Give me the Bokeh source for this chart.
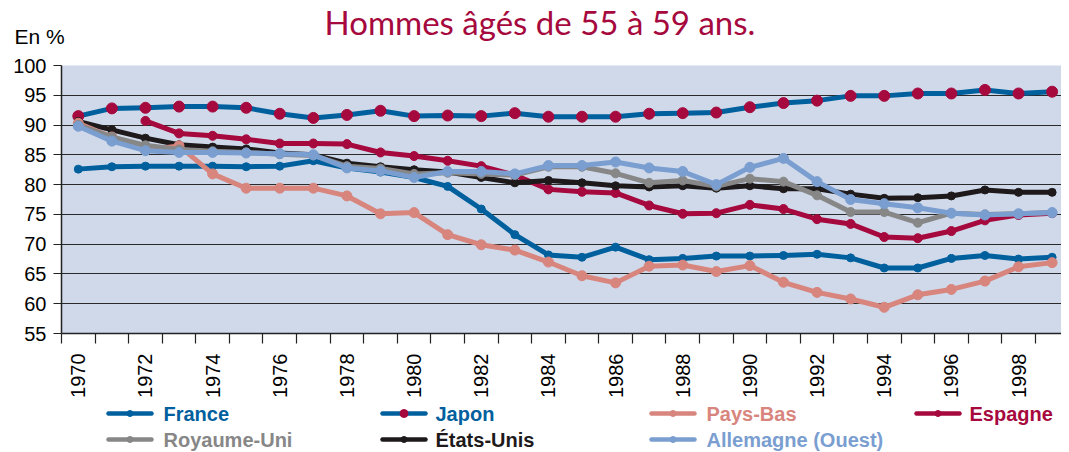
import math
from bokeh.plotting import figure
from bokeh.models import Range1d, FixedTicker
from bokeh.layouts import column
from bokeh.core.properties import value
from bokeh.embed import file_html
from bokeh.resources import INLINE

NaN = float("nan")

years = list(range(1970, 2000))

france = [82.6, 83.0, 83.1, 83.1, 83.1, 83.0, 83.1, 84.0, 82.8, 82.1,
          81.2, 79.7, 75.9, 71.6, 68.2, 67.8, 69.5, 67.4, 67.6, 68.0,
          68.0, 68.1, 68.3, 67.7, 66.0, 66.0, 67.6, 68.1, 67.5, 67.8]
japon = [91.5, 92.8, 92.9, 93.1, 93.1, 92.9, 91.9, 91.2, 91.7, 92.4,
         91.5, 91.6, 91.5, 92.0, 91.4, 91.4, 91.4, 91.9, 92.0, 92.1,
         93.0, 93.7, 94.1, 94.9, 94.9, 95.3, 95.3, 95.9, 95.3, 95.6]
pays_bas = [90.3, 88.0, 85.8, 86.5, 81.8, 79.4, 79.4, 79.4, 78.1, 75.1,
            75.3, 71.6, 69.9, 69.0, 67.0, 64.7, 63.5, 66.3, 66.5, 65.4,
            66.4, 63.6, 61.9, 60.8, 59.4, 61.5, 62.4, 63.8, 66.2, 66.9]
espagne = [NaN, NaN, 90.7, 88.6, 88.2, 87.6, 86.9, 86.9, 86.8, 85.4,
           84.8, 84.0, 83.1, 81.6, 79.2, 78.8, 78.6, 76.5, 75.1, 75.2,
           76.6, 75.9, 74.2, 73.4, 71.2, 71.0, 72.2, 74.0, 74.9, 75.2]
royaume_uni = [90.0, 88.0, 86.6, 85.9, 85.6, 85.4, 85.1, 84.9, 83.1, 82.7,
               81.8, 82.0, 81.8, 81.6, 83.0, 83.0, 81.9, 80.3, 80.7, 79.7,
               81.0, 80.5, 78.2, 75.4, 75.4, 73.6, 75.2, 75.0, 75.1, 75.3]
etats_unis = [90.6, 89.2, 87.8, 86.7, 86.3, 86.0, 85.3, 85.0, 83.6, 83.0,
              82.5, 82.1, 81.2, 80.3, 80.7, 80.3, 79.8, 79.6, 79.8, 79.4,
              79.8, 79.3, 79.3, 78.4, 77.7, 77.8, 78.1, 79.1, 78.7, 78.7]
allemagne = [89.8, 87.3, 85.7, 85.4, 85.4, 85.3, 85.2, 85.0, 82.8, 82.3,
             81.2, 82.2, 82.2, 81.8, 83.2, 83.2, 83.8, 82.8, 82.2, 80.0,
             82.9, 84.4, 80.5, 77.5, 76.8, 76.1, 75.2, 74.9, 75.1, 75.3]

label_years = list(range(1970, 2000, 2))
y_ticks = list(range(55, 101, 5))
title_text = "Hommes âgés de 55 à 59 ans."
unit_text = "En %"

BLUE = "#00609E"
CRIMSON = "#A6093D"
SALMON = "#D8857E"
GRAY = "#878787"
BLACK = "#1E1A1B"
LIGHTBLUE = "#7A9ED0"

W = 1061
FONT = "Liberation Sans"
HEAD_H = 50
MAIN_H = 350
LEG_H = 51


def bare(height):
    f = figure(width=W, height=height, output_backend="svg", toolbar_location=None,
               x_axis_type=None, y_axis_type=None, title=None,
               x_range=Range1d(0, W), y_range=Range1d(0, height),
               min_border=0, min_border_left=0, min_border_right=0,
               min_border_top=0, min_border_bottom=0)
    f.frame_align = False
    f.outline_line_color = None
    f.background_fill_color = "white"
    f.border_fill_color = "white"
    f.xgrid.visible = False
    f.ygrid.visible = False
    return f


# ---------- header ----------
head = bare(HEAD_H)
head.text(x=[324], y=[29], text=[title_text], text_font=value("Lato"),
          text_font_size="33px", text_color=CRIMSON, text_baseline="alphabetic")
head.text(x=[14], y=[14], text=[unit_text], text_font=value(FONT),
          text_font_size="21px", text_color="black", text_baseline="alphabetic")

# ---------- main chart ----------
p = figure(width=W, height=MAIN_H, output_backend="svg", toolbar_location=None, title=None,
           x_range=Range1d(1969.5, 1969.5 + 1000 / 33.58), y_range=Range1d(55, 100),
           min_border_left=61, min_border_right=0, min_border_top=15, min_border_bottom=67)
p.frame_align = False
p.background_fill_color = "#CFD9EA"
p.border_fill_color = "white"
p.outline_line_color = None

xa = p.xaxis[0]
xa.ticker = FixedTicker(ticks=label_years, minor_ticks=[y - 0.5 for y in years] + [1999.5])
xa.major_tick_out = 0
xa.major_tick_in = 0
xa.minor_tick_out = 10
xa.minor_tick_in = 0
xa.minor_tick_line_color = "#222222"
xa.minor_tick_line_width = 1.2
xa.major_label_orientation = math.pi / 2
xa.major_label_standoff = 10
xa.major_label_text_font = FONT
xa.major_label_text_font_size = "20px"
xa.major_label_text_color = "black"
xa.axis_line_color = "#222222"
xa.axis_line_width = 1.5

ya = p.yaxis[0]
ya.ticker = FixedTicker(ticks=y_ticks)
ya.major_tick_out = 8
ya.major_tick_in = 0
ya.minor_tick_out = 0
ya.minor_tick_in = 0
ya.major_tick_line_color = "#222222"
ya.major_label_standoff = 7
ya.major_label_text_font = FONT
ya.major_label_text_font_size = "20px"
ya.major_label_text_color = "black"
ya.axis_line_color = "#222222"
ya.axis_line_width = 1.5

p.xgrid.grid_line_color = None
p.ygrid.ticker = FixedTicker(ticks=y_ticks[1:-1])
p.ygrid.grid_line_color = "#2a2a2a"
p.ygrid.grid_line_width = 1.2

series = [
    ("France", france, BLUE, BLUE, 8),
    ("Japon", japon, BLUE, CRIMSON, 11),
    ("Espagne", espagne, CRIMSON, CRIMSON, 9),
    ("États-Unis", etats_unis, BLACK, BLACK, 8),
    ("Pays-Bas", pays_bas, SALMON, SALMON, 10),
    ("Royaume-Uni", royaume_uni, GRAY, GRAY, 9),
    ("Allemagne (Ouest)", allemagne, LIGHTBLUE, LIGHTBLUE, 10),
]
for name, vals, lc, mc, ms in series:
    p.line(years, vals, line_color=lc, line_width=5, line_join="round", line_cap="round")
    p.scatter(years, vals, marker="circle", size=ms, fill_color=mc, line_color=mc)

# ---------- legend ----------
leg = bare(LEG_H)
legend_names = ["France", "Japon", "Pays-Bas", "Espagne",
                "Royaume-Uni", "États-Unis", "Allemagne (Ouest)"]
legend_line_colors = [BLUE, BLUE, SALMON, CRIMSON, GRAY, BLACK, LIGHTBLUE]
legend_marker_colors = [BLUE, CRIMSON, SALMON, CRIMSON, GRAY, BLACK, LIGHTBLUE]
legend_marker_sizes = [6, 8, 6, 6, 6, 6, 6]
col_icon_x = [108, 382, 651, 916]
col_text_x = [163, 435, 706, 969]
row_y = [38, 12]
for i, name in enumerate(legend_names):
    r, c = divmod(i, 4)
    x0 = col_icon_x[c]
    yy = row_y[r]
    leg.line([x0, x0 + 43], [yy, yy], line_color=legend_line_colors[i], line_width=4.5,
             line_cap="round")
    leg.scatter([x0 + 21.5], [yy], marker="circle", size=legend_marker_sizes[i],
                fill_color=legend_marker_colors[i], line_color=legend_marker_colors[i])
    leg.text(x=[col_text_x[c]], y=[yy], text=[name], text_font=value(FONT),
             text_font_size="20px", text_font_style="bold",
             text_color=legend_line_colors[i], text_baseline="middle")

layout = column(head, p, leg, spacing=0)
open("out.html", "w").write(file_html(layout, INLINE))
